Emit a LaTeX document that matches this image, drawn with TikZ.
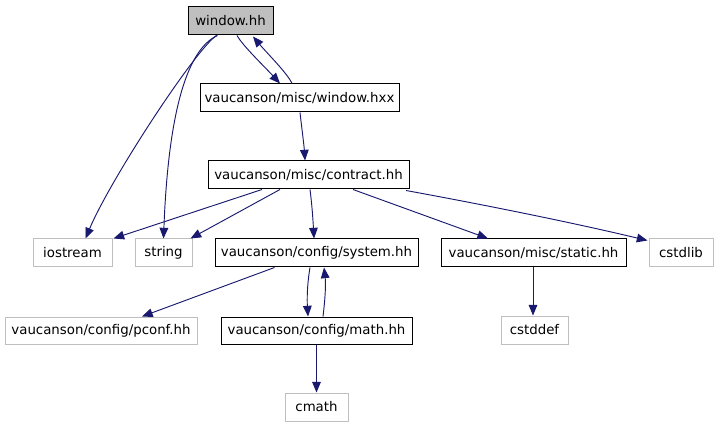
\documentclass[tikz,border=0pt]{standalone}
\usepackage{fontspec}
\setmainfont{DejaVu Sans}
\usetikzlibrary{arrows.meta,calc}
\definecolor{edgecol}{HTML}{191970}
\definecolor{extgray}{HTML}{BFBFBF}
\begin{document}
\begin{tikzpicture}[x=0.75pt,y=-0.75pt,
  box/.style={draw=black,line width=0.75pt,inner sep=0pt,minimum height=28*0.75pt,
    font=\fontsize{10}{12}\selectfont,text=black},
  ext/.style={box,draw=extgray},
  cur/.style={box,fill=extgray},
  dep/.style={draw=edgecol,line width=0.7pt,-{Triangle[length=8pt,width=6.5pt]},fill=none}]
\useasboundingbox (0,0) rectangle (716,427);
\fill[white] (0,0) rectangle (716,427);
\node[cur,minimum width=85*0.75pt] (wh) at (230.5,21) {window.hh};
\node[box,minimum width=199*0.75pt] (hxx) at (299.5,98) {vaucanson/misc/window.hxx};
\node[box,minimum width=201*0.75pt] (ct) at (308.5,175) {vaucanson/misc/contract.hh};
\node[ext,minimum width=79*0.75pt] (ios) at (72.5,253) {iostream};
\node[ext,minimum width=57*0.75pt] (str) at (163.5,253) {string};
\node[box,minimum width=203*0.75pt] (sys) at (316.5,253) {vaucanson/config/system.hh};
\node[box,minimum width=185*0.75pt] (sta) at (533.5,253) {vaucanson/misc/static.hh};
\node[ext,minimum width=64*0.75pt] (csl) at (681,253) {cstdlib};
\node[ext,minimum width=192*0.75pt,minimum height=27*0.75pt] (pcf) at (101,330.5) {vaucanson/config/pconf.hh};
\node[box,minimum width=191*0.75pt,minimum height=27*0.75pt] (mth) at (316.5,330.5) {vaucanson/config/math.hh};
\node[ext,minimum width=67*0.75pt] (csd) at (534.5,330) {cstddef};
\node[ext,minimum width=63*0.75pt] (cm) at (316.5,407) {cmath};
% edges
\draw[dep] ($(wh.south)+(6.5,0)$) .. controls (243,46) and (262,64) .. ($(hxx.north)+(-19.5,0)$);
\draw[dep] ($(hxx.north)+(-7.5,0)$) .. controls (288,74) and (266,52) .. ($(wh.south)+(22.5,1)$);
\draw[dep] ($(wh.south)+(-14,0)$) .. controls (195,50) and (110,180) .. ($(ios.north)+(13,0)$);
\draw[dep] ($(wh.south)+(-13,0)$) .. controls (185,50) and (168,120) .. (str.north);
\draw[dep] ($(hxx.south)+(0.5,0)$) .. controls (302,130) and (304,145) .. ($(ct.north)+(-3.5,0)$);
\draw[dep] ($(ct.south)+(-46.5,0)$) -- ($(ios.north east)+(1,0)$);
\draw[dep] ($(ct.south)+(-28.5,0)$) -- ($(str.north east)+(-2,0)$);
\draw[dep] ($(ct.south)+(1.5,0)$) .. controls (312,205) and (313,220) .. ($(sys.north)+(-2.5,0)$);
\draw[dep] ($(ct.south)+(44.5,0)$) -- ($(sta.north)+(-45.5,0)$);
\draw[dep] ($(ct.south east)+(-3.5,1)$) .. controls (480,204) and (570,222) .. ($(csl.north west)+(-1,2)$);
\draw[dep] ($(sys.south)+(-42,0)$) -- ($(pcf.north)+(41,0)$);
\draw[dep] ($(sys.south)+(-6.5,0)$) .. controls (307,285) and (307,300) .. ($(mth.north)+(-8.5,0)$);
\draw[dep] ($(mth.north)+(6.5,0)$) .. controls (325,300) and (326,285) .. ($(sys.south)+(7.5,0)$);
\draw[dep] (mth.south) -- (cm.north);
\draw[dep] ($(sta.south)+(-0.5,0)$) -- ($(csd.north)+(-1.5,0)$);
\end{tikzpicture}
\end{document}
